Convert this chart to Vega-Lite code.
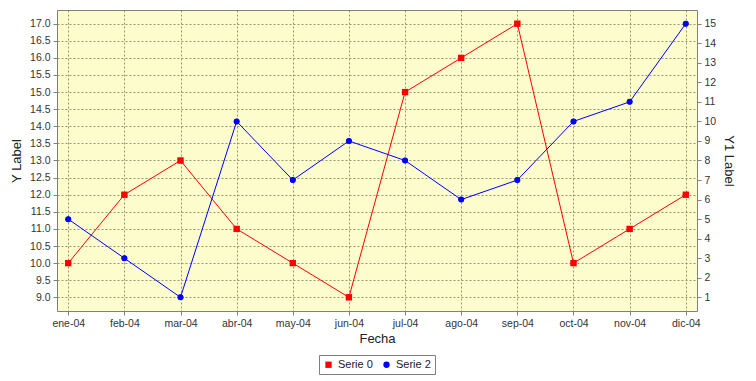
{
  "$schema": "https://vega.github.io/schema/vega-lite/v6.json",
  "width": 640,
  "height": 301,
  "autosize": {"type": "none"},
  "padding": {"left": 57, "top": 10, "right": 59, "bottom": 70},
  "background": "#ffffff",
  "config": {
    "font": "Liberation Sans",
    "view": {"fill": "#FCFCCC", "stroke": "#808080", "strokeWidth": 1},
    "axis": {
      "labelFont": "Liberation Sans",
      "labelFontSize": 10.5,
      "labelColor": "#333333",
      "titleFont": "Liberation Sans",
      "titleFontSize": 13,
      "titleFontWeight": "normal",
      "titleColor": "#222222",
      "domain": false,
      "tickColor": "#808080",
      "tickSize": 4,
      "labelPadding": 3,
      "gridColor": "#7d7d5e",
      "gridDash": [2, 2],
      "gridWidth": 0.8,
      "gridOpacity": 1
    }
  },
  "data": {
    "values": [
      {"Fecha": "ene-04", "serie": "Serie 0", "valor": 10},
      {"Fecha": "feb-04", "serie": "Serie 0", "valor": 12},
      {"Fecha": "mar-04", "serie": "Serie 0", "valor": 13},
      {"Fecha": "abr-04", "serie": "Serie 0", "valor": 11},
      {"Fecha": "may-04", "serie": "Serie 0", "valor": 10},
      {"Fecha": "jun-04", "serie": "Serie 0", "valor": 9},
      {"Fecha": "jul-04", "serie": "Serie 0", "valor": 15},
      {"Fecha": "ago-04", "serie": "Serie 0", "valor": 16},
      {"Fecha": "sep-04", "serie": "Serie 0", "valor": 17},
      {"Fecha": "oct-04", "serie": "Serie 0", "valor": 10},
      {"Fecha": "nov-04", "serie": "Serie 0", "valor": 11},
      {"Fecha": "dic-04", "serie": "Serie 0", "valor": 12},
      {"Fecha": "ene-04", "serie": "Serie 2", "valor": 5},
      {"Fecha": "feb-04", "serie": "Serie 2", "valor": 3},
      {"Fecha": "mar-04", "serie": "Serie 2", "valor": 1},
      {"Fecha": "abr-04", "serie": "Serie 2", "valor": 10},
      {"Fecha": "may-04", "serie": "Serie 2", "valor": 7},
      {"Fecha": "jun-04", "serie": "Serie 2", "valor": 9},
      {"Fecha": "jul-04", "serie": "Serie 2", "valor": 8},
      {"Fecha": "ago-04", "serie": "Serie 2", "valor": 6},
      {"Fecha": "sep-04", "serie": "Serie 2", "valor": 7},
      {"Fecha": "oct-04", "serie": "Serie 2", "valor": 10},
      {"Fecha": "nov-04", "serie": "Serie 2", "valor": 11},
      {"Fecha": "dic-04", "serie": "Serie 2", "valor": 15}
    ]
  },
  "encoding": {
    "x": {
      "field": "Fecha",
      "type": "ordinal",
      "sort": null,
      "scale": {"type": "point", "padding": 0.2},
      "axis": {"title": "Fecha", "labelAngle": 0, "grid": true, "titlePadding": 4}
    },
    "color": {
      "field": "serie",
      "type": "nominal",
      "scale": {"domain": ["Serie 0", "Serie 2"], "range": ["#FF0000", "#0000FF"]},
      "legend": {
        "title": null,
        "orient": "none",
        "direction": "horizontal",
        "legendX": 262,
        "legendY": 345,
        "strokeColor": "#808080",
        "padding": 4,
        "labelFont": "Liberation Sans",
        "labelFontSize": 11,
        "labelColor": "#222222",
        "symbolSize": 40,
        "columnPadding": 8,
        "symbolStrokeWidth": 0
      }
    },
    "shape": {
      "field": "serie",
      "type": "nominal",
      "scale": {"domain": ["Serie 0", "Serie 2"], "range": ["square", "circle"]},
      "legend": null
    }
  },
  "layer": [
    {
      "transform": [{"filter": "datum.serie == 'Serie 0'"}],
      "encoding": {
        "y": {
          "field": "valor",
          "type": "quantitative",
          "scale": {"domain": [8.6, 17.4], "nice": false, "zero": false},
          "axis": {
            "title": "Y Label",
            "orient": "left",
            "values": [9, 9.5, 10, 10.5, 11, 11.5, 12, 12.5, 13, 13.5, 14, 14.5, 15, 15.5, 16, 16.5, 17],
            "format": ".1f",
            "grid": true,
            "titlePadding": 6
          }
        }
      },
      "layer": [
        {"mark": {"type": "line", "strokeWidth": 1}},
        {"mark": {"type": "point", "filled": true, "size": 40, "opacity": 1}}
      ]
    },
    {
      "transform": [{"filter": "datum.serie == 'Serie 2'"}],
      "encoding": {
        "y": {
          "field": "valor",
          "type": "quantitative",
          "scale": {"domain": [0.3, 15.7], "nice": false, "zero": false},
          "axis": {
            "title": "Y1 Label",
            "orient": "right",
            "values": [1, 2, 3, 4, 5, 6, 7, 8, 9, 10, 11, 12, 13, 14, 15],
            "grid": false,
            "titlePadding": 6
          }
        }
      },
      "layer": [
        {"mark": {"type": "line", "strokeWidth": 1}},
        {"mark": {"type": "point", "filled": true, "size": 36, "opacity": 1}}
      ]
    }
  ],
  "resolve": {"scale": {"y": "independent"}, "axis": {"y": "independent"}}
}
